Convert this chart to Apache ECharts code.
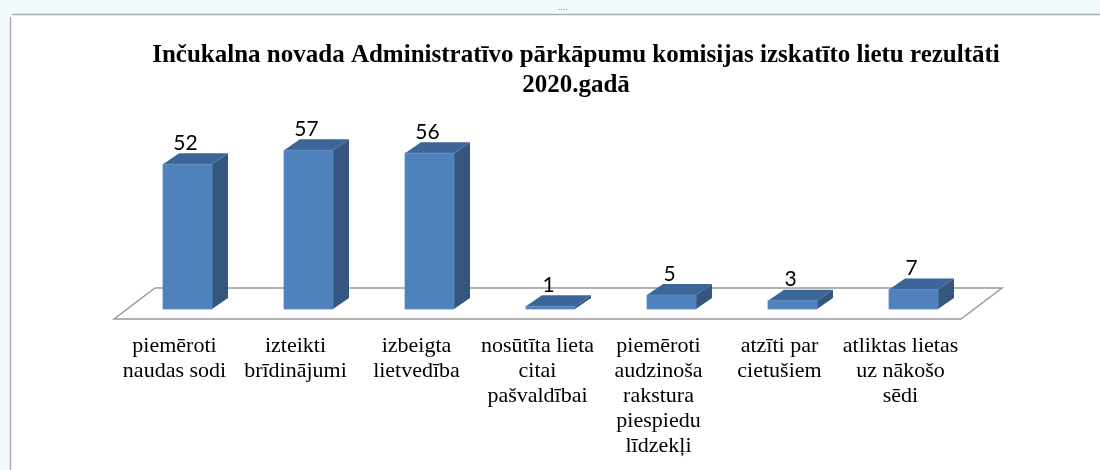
<!DOCTYPE html>
<html>
<head>
<meta charset="utf-8">
<script src="https://cdn.jsdelivr.net/npm/echarts@6/dist/echarts.min.js"></script>
<style>
  html, body { margin: 0; padding: 0; background: #fff; }
  #chart { width: 1100px; height: 470px; }
</style>
</head>
<body>
<div id="chart"></div>
<script>
// dati
var titleText = "Inčukalna novada Administratīvo pārkāpumu komisijas izskatīto lietu rezultāti\n2020.gadā";
var categories = [
  "piemēroti\nnaudas sodi",
  "izteikti\nbrīdinājumi",
  "izbeigta\nlietvedība",
  "nosūtīta lieta\ncitai\npašvaldībai",
  "piemēroti\naudzinoša\nrakstura\npiespiedu\nlīdzekļi",
  "atzīti par\ncietušiem",
  "atliktas lietas\nuz nākošo\nsēdi"
];
var values = [52, 57, 56, 1, 5, 3, 7];

// 3D izskats
var depthX = 16, depthY = -11;
var floorFront = [-13, 10], floorBack = [28, -21];
var cFront = "#4F81BD", cTop = "#3C6697", cSide = "#34567F";

var myChart = echarts.init(document.getElementById("chart"));

function renderFloor(params, api) {
  var cs = params.coordSys;
  var base = api.coord([0, 0])[1];
  var l = cs.x, r = cs.x + cs.width;
  return {
    type: "polygon",
    shape: {
      points: [
        [l + floorFront[0], base + floorFront[1]],
        [r + floorFront[0], base + floorFront[1]],
        [r + floorBack[0], base + floorBack[1]],
        [l + floorBack[0], base + floorBack[1]]
      ]
    },
    style: { fill: "#fff", stroke: "#9a9a9a", lineWidth: 1.5 }
  };
}

function renderBar(params, api) {
  var bottom = api.coord([api.value(0), 0]);
  var top = api.coord([api.value(0), api.value(1)]);
  var bw = api.size([1, 0])[0] * 0.405;
  var x0 = bottom[0] - bw / 2, x1 = bottom[0] + bw / 2;
  var yb = bottom[1], yt = top[1];
  return {
    type: "group",
    children: [
      {
        type: "polygon",
        shape: { points: [[x1, yb], [x1 + depthX, yb + depthY], [x1 + depthX, yt + depthY], [x1, yt]] },
        style: { fill: cSide }
      },
      {
        type: "polygon",
        shape: { points: [[x0, yt], [x1, yt], [x1 + depthX, yt + depthY], [x0 + depthX, yt + depthY]] },
        style: { fill: cTop }
      },
      {
        type: "rect",
        shape: { x: x0, y: yt, width: bw, height: yb - yt },
        style: { fill: cFront, stroke: "#5b8cc6", lineWidth: 0.8 }
      },
      {
        type: "text",
        style: {
          text: String(api.value(1)),
          x: bottom[0] - 2,
          y: yt + depthY - 10,
          align: "center",
          verticalAlign: "middle",
          fontFamily: "Lato",
          fontSize: 21,
          fill: "#000"
        }
      }
    ]
  };
}

myChart.setOption({
  animation: false,
  title: {
    text: titleText,
    left: 571,
    textAlign: "center",
    top: 36,
    textStyle: {
      fontFamily: "Liberation Serif",
      fontWeight: "bold",
      fontSize: 25,
      lineHeight: 30,
      color: "#000"
    }
  },
  grid: { left: 127, right: 126, top: 142, bottom: 161 },
  xAxis: {
    type: "category",
    data: categories,
    axisLine: { show: false },
    axisTick: { show: false },
    axisLabel: {
      interval: 0,
      margin: 25,
      padding: [0, 26, 0, 0],
      fontFamily: "Liberation Serif",
      fontSize: 22,
      lineHeight: 25,
      color: "#000"
    }
  },
  yAxis: { type: "value", min: 0, max: 60, show: false },
  graphic: [
    { type: "rect", shape: { x: 0, y: 0, width: 1100, height: 14 }, style: { fill: "#f1fafc" }, silent: true },
    { type: "rect", shape: { x: 0, y: 0, width: 10, height: 470 }, style: { fill: "#f1fafc" }, silent: true },
    { type: "line", shape: { x1: 12, y1: 14.5, x2: 1100, y2: 14.5 }, style: { stroke: "#a7adb0", lineWidth: 1.5 }, silent: true },
    { type: "line", shape: { x1: 10.5, y1: 17, x2: 10.5, y2: 470 }, style: { stroke: "#a7adb0", lineWidth: 1.5 }, silent: true },
    { type: "text", style: { text: "....", x: 558, y: 8, fontSize: 9, fill: "#777", verticalAlign: "middle" }, silent: true }
  ],
  series: [
    {
      type: "custom",
      renderItem: renderFloor,
      data: [[0]],
      z: 1,
      silent: true
    },
    {
      type: "custom",
      renderItem: renderBar,
      data: values.map(function (v, i) { return [i, v]; }),
      z: 2
    }
  ]
});
</script>
</body>
</html>
